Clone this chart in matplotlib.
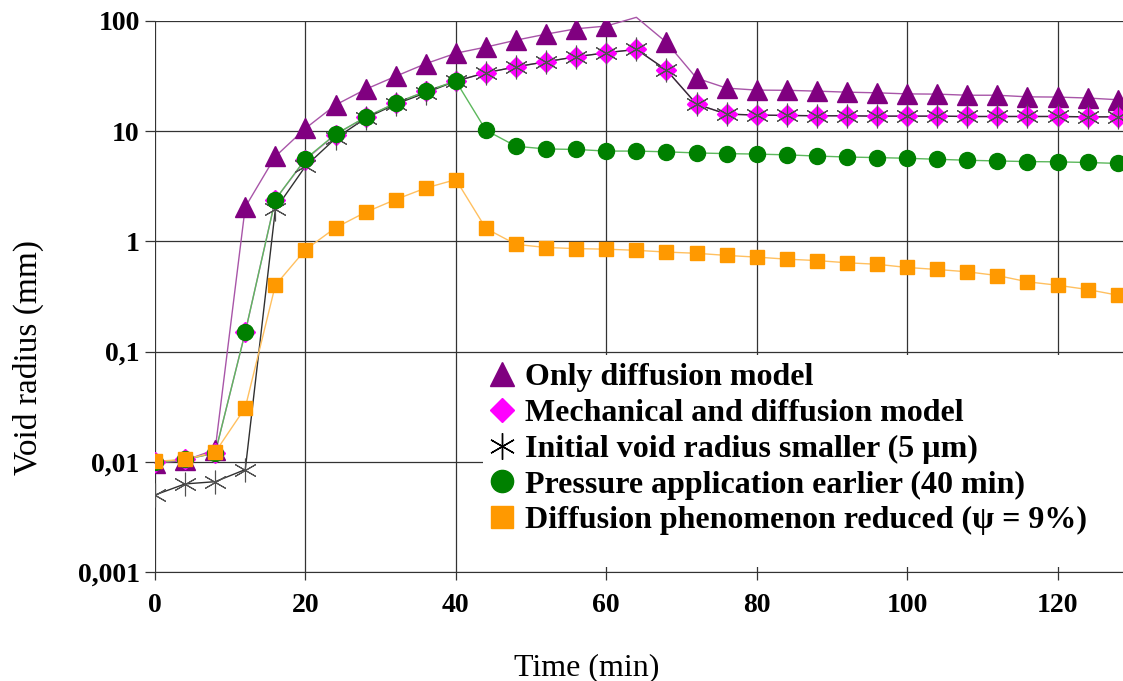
import matplotlib
matplotlib.use("Agg")
import matplotlib.pyplot as plt
from matplotlib.lines import Line2D
from matplotlib.patches import Rectangle
from matplotlib.ticker import FixedLocator, FixedFormatter, NullLocator

plt.rcParams['font.family'] = ['Liberation Serif', 'DejaVu Serif']

# time (min)
time = [0, 4, 8, 12, 16, 20, 24, 28, 32, 36, 40, 44, 48, 52, 56, 60, 64,
        68, 72, 76, 80, 84, 88, 92, 96, 100, 104, 108, 112, 116, 120, 124, 128]

# void radius (mm) for each case
only_diff = [0.0097, 0.0103, 0.0129, 2.05, 5.9, 10.6, 17.3, 24, 31.5, 41, 51,
             58, 67, 76, 85, 90, 108, 64, 30.3, 24.6, 23.6, 23.5, 23.1, 22.6,
             22.3, 21.8, 21.7, 21.2, 21.2, 20.5, 20.4, 20.0, 19.3]
mech_diff = [0.0099, 0.0105, 0.012, 0.15, 2.4, 5.5, 9.3, 13.4, 18, 23, 28.5,
             33.9, 38.4, 42.7, 47.4, 51.5, 55.3, 35.9, 17.6, 14.3, 14.0, 13.9,
             13.8, 13.8, 13.7, 13.7, 13.7, 13.6, 13.6, 13.6, 13.6, 13.5, 13.5]
small_init = [0.005, 0.0063, 0.0066, 0.0085, 1.95, 4.8, 8.6, 13.1, 17.6, 22.3, 28.5,
              33.9, 38.4, 42.7, 47.4, 51.5, 55.3, 35.9, 17.6, 14.3, 14.0, 13.9,
              13.8, 13.8, 13.7, 13.7, 13.7, 13.6, 13.6, 13.6, 13.6, 13.5, 13.5]
press_early = [0.0099, 0.0105, 0.012, 0.15, 2.4, 5.6, 9.4, 13.4, 18, 23, 28.5,
               10.2, 7.3, 6.9, 6.83, 6.6, 6.6, 6.5, 6.35, 6.26, 6.2, 6.1, 5.95,
               5.83, 5.76, 5.68, 5.56, 5.45, 5.37, 5.3, 5.27, 5.2, 5.1]
diff_reduced = [0.0101, 0.0105, 0.0122, 0.031, 0.40, 0.84, 1.33, 1.84, 2.4, 3.05, 3.64,
                1.31, 0.94, 0.88, 0.86, 0.85, 0.83, 0.80, 0.78, 0.746, 0.72, 0.69,
                0.67, 0.64, 0.62, 0.58, 0.556, 0.53, 0.49, 0.43, 0.40, 0.366, 0.325]

labels = ['Only diffusion model',
          'Mechanical and diffusion model',
          'Initial void radius smaller (5 µm)',
          'Pressure application earlier (40 min)',
          'Diffusion phenomenon reduced (ψ = 9%)']

y_ticks = [0.001, 0.01, 0.1, 1, 10, 100]
y_ticklabels = ['0,001', '0,01', '0,1', '1', '10', '100']
x_ticks = [0, 20, 40, 60, 80, 100, 120]

fig = plt.figure(figsize=(11.23, 6.81), dpi=100)
ax = fig.add_axes([155 / 1123, 1 - 572 / 681, 968 / 1123, 551 / 681])

star = (6, 2, 0)

# lines
ax.plot(time, only_diff, color='#a855a8', lw=1, clip_on=False, zorder=2)
ax.plot(time, mech_diff, color='#d070d0', lw=1, zorder=2)
ax.plot(time, small_init, color='#303030', lw=1, zorder=3)
ax.plot(time, press_early, color='#5cb85c', lw=1, zorder=3)
ax.plot(time, diff_reduced, color='#ffc060', lw=1, zorder=3)

# markers (points above the axis top are not shown)
shown = [v <= 100 for v in only_diff]
ax.plot(time, only_diff, ls='none', marker='^', ms=15, color='#800080',
        markevery=shown, zorder=4)
ax.plot(time, mech_diff, ls='none', marker='D', ms=10.5, color='#ff00ff', zorder=5)
ax.plot(time, small_init, ls='none', marker=star, ms=17, color='#505050',
        mew=0.8, zorder=6)
ax.plot(time, press_early, ls='none', marker='o', ms=11.5, color='#008000', zorder=7)
ax.plot(time, diff_reduced, ls='none', marker='s', ms=10.5, color='#ff9900', zorder=8)

ax.set_yscale('log')
ax.set_ylim(0.001, 100)
ax.set_xlim(0, 128.7)
ax.yaxis.set_major_locator(FixedLocator(y_ticks))
ax.yaxis.set_major_formatter(FixedFormatter(y_ticklabels))
ax.yaxis.set_minor_locator(NullLocator())
ax.set_xticks(x_ticks)

ax.grid(True, which='major', color='#333333', lw=0.9)
ax.set_axisbelow(True)
for s in ['right', 'left', 'top']:
    ax.spines[s].set_visible(False)
ax.spines['bottom'].set_color('#333333')

ax.tick_params(axis='y', direction='out', length=7, width=0.9, color='#333333', pad=4)
ax.tick_params(axis='x', direction='out', length=6, width=0.9, color='#333333', pad=9)
for t in ax.get_xticklabels() + ax.get_yticklabels():
    t.set_fontsize(20)
    t.set_fontweight('bold')

ax.set_xlabel('Time (min)', fontsize=23)
ax.set_ylabel('Void radius (mm)', fontsize=24)
ax.xaxis.set_label_coords(0.446, -0.147)
ax.yaxis.set_label_coords(-0.115, 0.39)

# white area behind the legend hides the grid there
ax.add_patch(Rectangle((0.339, 0.009), 0.661, 0.385, transform=ax.transAxes,
                       facecolor='white', edgecolor='none', zorder=1))

handles = [
    Line2D([], [], ls='none', marker='^', ms=17, color='#800080'),
    Line2D([], [], ls='none', marker='D', ms=12.5, color='#ff00ff'),
    Line2D([], [], ls='none', marker=star, ms=19, color='black', mew=1),
    Line2D([], [], ls='none', marker='o', ms=16, color='#008000'),
    Line2D([], [], ls='none', marker='s', ms=16, color='#ff9900'),
]
leg = ax.legend(handles, labels, loc='upper left', bbox_to_anchor=(0.339, 0.391),
                frameon=False, handlelength=0.8, handletextpad=0.3,
                labelspacing=0.2, borderpad=0.2, borderaxespad=0,
                prop={'size': 23, 'weight': 'bold'})
leg.set_zorder(10)

fig.savefig('out.png', dpi=100)
